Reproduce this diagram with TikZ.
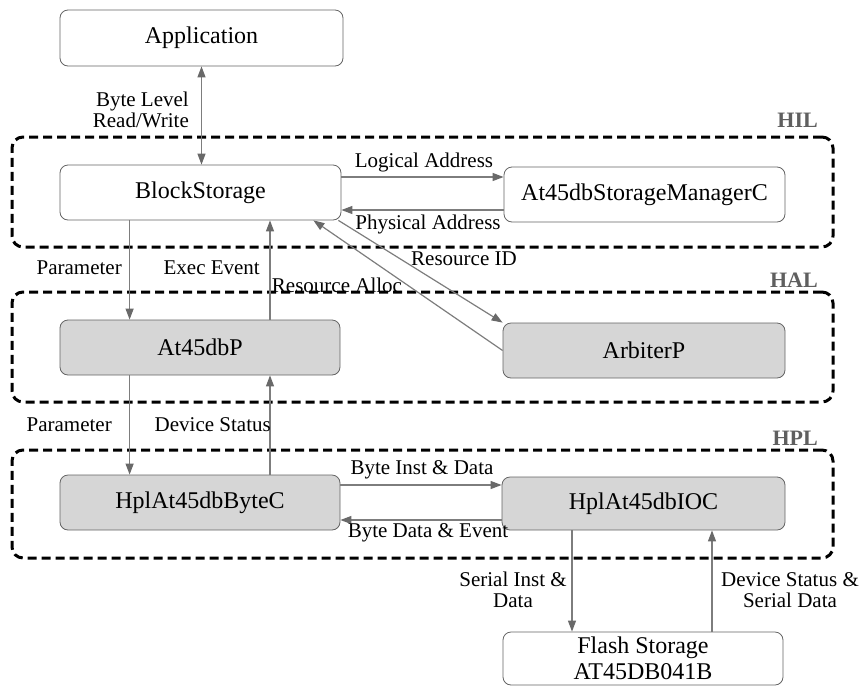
\documentclass[tikz,border=0pt]{standalone}
\usepackage{fontspec}
\setmainfont{Liberation Serif}
\usetikzlibrary{arrows.meta}
\definecolor{boxfill}{RGB}{214,214,214}
\definecolor{boxline}{RGB}{100,100,100}
\definecolor{arrline}{RGB}{125,125,125}
\definecolor{arrhead}{RGB}{105,105,105}
\definecolor{layertxt}{RGB}{95,95,95}
\tikzset{
  comp/.style={draw=boxline, line width=0.8pt, rounded corners=8pt, fill=white,
    minimum width=281pt, minimum height=55pt, inner sep=0pt,
    font=\fontsize{24}{26}\selectfont, align=center},
  hwcomp/.style={comp, fill=boxfill},
  layer/.style={draw=black, line width=3pt, dash pattern=on 9pt off 5pt,
    rounded corners=11pt, minimum width=821pt, inner sep=0pt},
  layername/.style={font=\fontsize{22}{22}\selectfont\bfseries, text=layertxt, anchor=east, inner sep=0pt},
  lbl/.style={font=\fontsize{21}{21.5}\selectfont, inner sep=1pt},
  arr/.style={draw=arrline, line width=1.2pt,
    -{Triangle[length=11pt,width=8pt,color=arrhead]}},
  arrboth/.style={draw=arrline, line width=1.2pt,
    {Triangle[length=11pt,width=8pt,color=arrhead]}-{Triangle[length=11pt,width=8pt,color=arrhead]}}
}
\begin{document}
\begin{tikzpicture}[x=1pt,y=-1pt]
\useasboundingbox (0,0) rectangle (860,686);

% layer containers
\node[layer, minimum height=110pt] (hil) at (422.5,192) {};
\node[layer, minimum height=110pt] (hal) at (422.5,347) {};
\node[layer, minimum height=108pt] (hpl) at (422.5,504) {};
\node[layername] (hilname) at (818,120) {HIL};
\node[layername] (halname) at (818,280) {HAL};
\node[layername] (hplname) at (818,438) {HPL};

% components
\node[comp, minimum width=283pt, minimum height=56pt] (app) at (201.5,38) {Application};
\node[comp] (bs) at (200.5,192.5) {BlockStorage};
\node[comp] (sm) at (644.5,194.5) {At45dbStorageManagerC};
\node[hwcomp, minimum width=280pt] (at) at (200,347.5) {At45dbP};
\node[hwcomp, minimum width=282pt] (arb) at (644,350.5) {ArbiterP};
\node[hwcomp, minimum width=280pt] (hb) at (200,502.5) {HplAt45dbByteC};
\node[hwcomp, minimum width=283pt, minimum height=53pt] (io) at (643.5,503.5) {HplAt45dbIOC};
\node[comp, minimum width=280pt, minimum height=53pt] (fl) at (643,658.5) {Flash Storage\\AT45DB041B};

% connector end points
\coordinate (la) at ([yshift=15.5pt]bs.east);
\coordinate (pa) at ([yshift=-15.5pt]sm.west);
\coordinate (bi) at ([yshift=17.5pt]hb.east);
\coordinate (bd) at ([yshift=-16.5pt]io.west);
\coordinate (si) at ([xshift=-71.5pt]io.south);
\coordinate (ds) at ([xshift=69pt]fl.north);
\coordinate (ee) at ([xshift=70pt]at.north);
\coordinate (dv) at ([xshift=70pt]hb.north);

% connectors
\draw[arrboth] (app.south) -- (app.south |- bs.north);
\draw[arr] (la) -- (la -| sm.west);
\draw[arr] (pa) -- (pa -| bs.east);
\draw[arr] ([xshift=70pt]bs.south west) -- ([xshift=70pt]at.north west);
\draw[arr] (ee) -- (ee |- bs.south);
\draw[arr] ([xshift=-3pt]bs.south east) -- (arb.north west);
\draw[arr] (arb.west) -- ([xshift=-28pt]bs.south east);
\draw[arr] ([xshift=70pt]at.south west) -- ([xshift=70pt]hb.north west);
\draw[arr] (dv) -- (dv |- at.south);
\draw[arr] (bi) -- (bi -| io.west);
\draw[arr] (bd) -- (bd -| hb.east);
\draw[arr] (si) -- (si |- fl.north);
\draw[arr] (ds) -- (ds |- io.south);

% connector labels
\node[lbl, align=right, anchor=east] (l1) at (190,110) {Byte Level\\Read/Write};
\node[lbl] (l2) at (424,162) {Logical Address};
\node[lbl] (l3) at (428,224) {Physical Address};
\node[lbl, anchor=east] (l4) at (123,268) {Parameter};
\node[lbl, anchor=east] (l5) at (261,268) {Exec Event};
\node[lbl] (l6) at (464,259) {Resource ID};
\node[lbl] (l7) at (337,285) {Resource Alloc};
\node[lbl, anchor=east] (l8) at (113,425) {Parameter};
\node[lbl, anchor=east] (l9) at (272,425) {Device Status};
\node[lbl] (l10) at (422,470) {Byte Inst \& Data};
\node[lbl] (l11) at (428,533) {Byte Data \& Event};
\node[lbl, align=center] (l12) at (513,590) {Serial Inst \&\\Data};
\node[lbl, align=center] (l13) at (790,590) {Device Status \&\\Serial Data};
\end{tikzpicture}
\end{document}
